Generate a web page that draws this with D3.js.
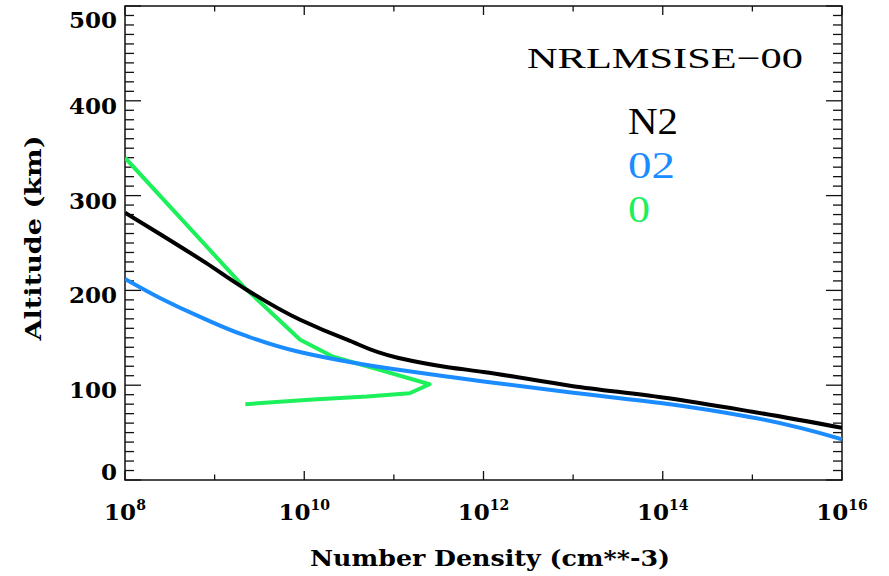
<!DOCTYPE html>
<html>
<head>
<meta charset="utf-8">
<script src="https://cdn.jsdelivr.net/npm/d3@7"></script>
<style>
  html, body { margin: 0; padding: 0; background: #fff; }
  svg { display: block; }
</style>
</head>
<body>
<script>
// ---------------- DATA ----------------
const titleText = "NRLMSISE\u221200";
const speciesNames = ["N2", "02", "0"];
const speciesColors = ["#000000", "#1a8cff", "#1cf05a"];

// N2 profile: altitude (km) vs number density (cm^-3)
const altN2  = [55, 72, 87, 99, 114, 119, 129, 148, 169, 204, 229, 259, 282];
const densN2 = [1e16, 1e15, 1e14, 1e13, 1e12, 4e11, 1.1e11, 3e10, 9e9, 2e9, 8e8, 2.5e8, 1e8];

// O2 profile
const altO2  = [43, 66, 81, 92, 104, 108.6, 116, 124.5, 135, 153, 172, 192, 212];
const densO2 = [1e16, 1e15, 1e14, 1e13, 1e12, 4.3e11, 1.17e11, 3.2e10, 8.9e9, 2.1e9, 6.9e8, 2.45e8, 1e8];

// O profile
const altO   = [80, 85, 88, 91.5, 101, 117, 130, 148, 204, 278, 340];
const densO  = [2.2e9, 1.25e10, 5e10, 1.5e11, 2.5e11, 6.5e10, 2.1e10, 9e9, 2.1e9, 4e8, 1e8];

const xTickExponents = [8, 10, 12, 14, 16];
const xMinorExponents = [9, 11, 13, 15];
const yTickValues = [0, 100, 200, 300, 400, 500];
const xTitle = "Number Density (cm**-3)";
const yTitle = "Altitude (km)";

// ---------------- LAYOUT ----------------
const W = 889, H = 576;
const L = 125, R = 842, T = 6, B = 480;
const serif = "'DejaVu Serif', serif";
const serif2 = "'Liberation Serif', serif";

const svg = d3.select("body").append("svg").attr("width", W).attr("height", H);

const x = d3.scaleLog().domain([1e8, 1e16]).range([L, R]);
const y = d3.scaleLinear().domain([0, 500]).range([B, T]);

svg.append("defs").append("clipPath").attr("id", "clip")
  .append("rect").attr("x", L).attr("y", T).attr("width", R - L).attr("height", B - T);

// frame
const axisColor = "#111";
svg.append("rect").attr("x", L).attr("y", T).attr("width", R - L).attr("height", B - T)
  .attr("fill", "none").attr("stroke", axisColor).attr("stroke-width", 1.5);

// y ticks (every 10 km, major every 100)
const yAll = d3.range(0, 501, 10);
const gy = svg.append("g").attr("stroke", axisColor).attr("stroke-width", 1.3);
yAll.forEach(v => {
  const len = v % 100 === 0 ? 16 : 9;
  const yy = y(v);
  gy.append("line").attr("x1", L).attr("x2", L + len).attr("y1", yy).attr("y2", yy);
  gy.append("line").attr("x1", R).attr("x2", R - len).attr("y1", yy).attr("y2", yy);
});

// x ticks
const gx = svg.append("g").attr("stroke", axisColor).attr("stroke-width", 1.3);
xTickExponents.concat(xMinorExponents).forEach(e => {
  const major = xTickExponents.includes(e);
  const len = major ? 9 : 5.5;
  const xx = x(Math.pow(10, e));
  gx.append("line").attr("x1", xx).attr("x2", xx).attr("y1", B).attr("y2", B - len);
  gx.append("line").attr("x1", xx).attr("x2", xx).attr("y1", T).attr("y2", T + len);
});

// y tick labels
yTickValues.forEach(v => {
  const base = Math.min(Math.max(y(v) + 13, T + 22), B);
  svg.append("text").attr("x", 117).attr("y", base)
    .attr("text-anchor", "end").attr("font-family", serif).attr("font-weight", "bold")
    .attr("font-size", 23).attr("fill", "#000").text(v);
});

// x tick labels
xTickExponents.forEach(e => {
  const t = svg.append("text").attr("x", x(Math.pow(10, e))).attr("y", 520)
    .attr("text-anchor", "middle").attr("font-family", serif).attr("font-weight", "bold")
    .attr("font-size", 23).attr("fill", "#000");
  t.append("tspan").text("10");
  t.append("tspan").attr("dy", -10).attr("font-size", 14).text(e);
});

// axis titles
svg.append("text").attr("x", 490).attr("y", 566).attr("text-anchor", "middle")
  .attr("font-family", serif).attr("font-weight", "bold").attr("font-size", 22)
  .attr("textLength", 360).attr("lengthAdjust", "spacingAndGlyphs").text(xTitle);

svg.append("text").attr("transform", "translate(41,238) rotate(-90)")
  .attr("text-anchor", "middle").attr("font-family", serif).attr("font-weight", "bold")
  .attr("font-size", 23).attr("textLength", 205).attr("lengthAdjust", "spacingAndGlyphs")
  .text(yTitle);

// lines
const series = [
  { alt: altN2, dens: densN2, curve: d3.curveMonotoneY },
  { alt: altO2, dens: densO2, curve: d3.curveMonotoneY },
  { alt: altO,  dens: densO,  curve: d3.curveLinear }
];
const gl = svg.append("g").attr("clip-path", "url(#clip)");
[2, 1, 0].forEach(i => {
  const s = series[i];
  const pts = s.dens.map((d, k) => [d, s.alt[k]]);
  const line = d3.line().x(d => x(d[0])).y(d => y(d[1])).curve(s.curve);
  gl.append("path").attr("d", line(pts)).attr("fill", "none")
    .attr("stroke", speciesColors[i]).attr("stroke-width", 4)
    .attr("stroke-linejoin", "round").attr("stroke-linecap", "butt");
});

// title & legend
svg.append("text").attr("x", 527).attr("y", 68)
  .attr("font-family", serif2).attr("font-size", 30).attr("fill", "#000")
  .attr("textLength", 276).attr("lengthAdjust", "spacingAndGlyphs").text(titleText);

const legendY = [134, 178, 222];
const legendW = [50, 47, 22];
speciesNames.forEach((n, i) => {
  svg.append("text").attr("x", 628).attr("y", legendY[i])
    .attr("font-family", serif2).attr("font-size", 38).attr("fill", speciesColors[i])
    .attr("textLength", legendW[i]).attr("lengthAdjust", "spacingAndGlyphs").text(n);
});
</script>
</body>
</html>
